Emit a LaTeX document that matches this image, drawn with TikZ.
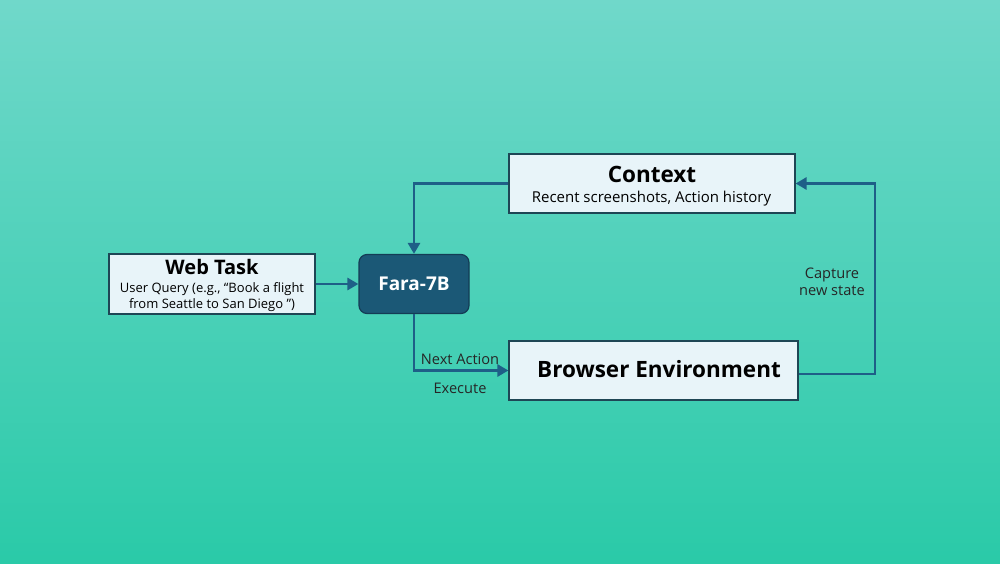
\documentclass[tikz,border=0pt]{standalone}
\usepackage{fontspec}
\setmainfont{Open Sans}
\usetikzlibrary{arrows.meta}
\definecolor{bgtop}{RGB}{112,216,202}
\definecolor{bgbot}{RGB}{42,202,168}
\definecolor{boxfill}{RGB}{232,244,249}
\definecolor{boxline}{RGB}{30,70,85}
\definecolor{faraf}{RGB}{27,88,118}
\definecolor{farad}{RGB}{20,60,85}
\definecolor{arr}{RGB}{30,95,135}
\tikzset{
  lightbox/.style={draw=boxline, line width=1.2pt, fill=boxfill, inner sep=0pt},
  farabox/.style={draw=farad, line width=1.2pt, fill=faraf, rounded corners=8pt, inner sep=0pt},
  conn/.style={draw=arr, line width=2.8pt, line join=miter, -{Triangle[length=11pt,width=12pt]}},
  lbl/.style={font=\fontsize{14.6}{17.5}\selectfont, text=black!85},
}
\begin{document}
\begin{tikzpicture}[x=1pt,y=-1pt]
\shade[top color=bgtop, bottom color=bgbot] (0,0) rectangle (1000,563);
\useasboundingbox (0,0) rectangle (1000,563);
% boxes
\node[lightbox, minimum width=206pt, minimum height=60pt] (web) at (212,284) {};
\node[font=\bfseries\fontsize{20}{23}\selectfont] (webt) at (212,267) {Web Task};
\node[font=\fontsize{13}{16}\selectfont, align=center] (webs) at (212,297) {User Query (e.g., “Book a flight\\from Seattle to San Diego ”)};
\node[farabox, minimum width=110pt, minimum height=59pt] (fara) at (414,284) {};
\node[font=\bfseries\fontsize{19}{22}\selectfont, text=white] at (fara) {Fara-7B};
\node[lightbox, minimum width=286pt, minimum height=59pt] (ctx) at (652,183.5) {};
\node[font=\bfseries\fontsize{22.5}{26}\selectfont] at (652,174) {Context};
\node[font=\fontsize{15}{17}\selectfont] at (651.5,199) {Recent screenshots, Action history};
\node[lightbox, minimum width=289pt, minimum height=59pt] (brw) at (653.5,370.5) {};
\node[font=\bfseries\fontsize{22.5}{26}\selectfont] at (659,369) {Browser Environment};
% connectors
\coordinate (c3) at (875,374);
\draw[conn] (web.east) -- (fara.west);
\draw[conn] (ctx.west) -| (fara.north);
\draw[conn] (fara.south) |- (brw.west);
\draw[conn] (brw.east |- c3) -- (c3) |- (ctx.east);
% labels
\node[lbl] at (460,359) {Next Action};
\node[lbl] at (460,388) {Execute};
\node[lbl, align=center] at (832,282) {Capture\\new state};
\end{tikzpicture}
\end{document}
